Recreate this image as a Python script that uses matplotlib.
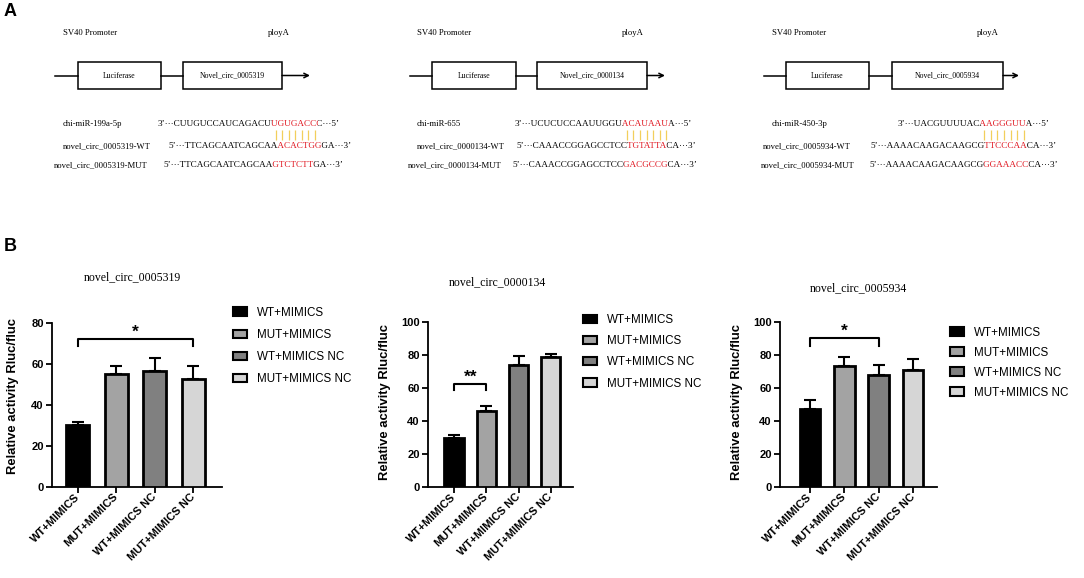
import matplotlib
matplotlib.use('Agg')
import matplotlib.pyplot as plt
from matplotlib.patches import Rectangle, Patch
from matplotlib.font_manager import FontProperties
from matplotlib.transforms import Bbox, TransformedBbox

W, H = 1084, 578
SERIF = 'Liberation Serif'
SANS = 'Liberation Sans'

# ---- panel A content
constructs = ['Novel_circ_0005319', 'Novel_circ_0000134', 'Novel_circ_0005934']
mirnas = ['chi-miR-199a-5p', 'chi-miR-655', 'chi-miR-450-3p']
wt_labels = ['novel_circ_0005319-WT', 'novel_circ_0000134-WT', 'novel_circ_0005934-WT']
mut_labels = ['novel_circ_0005319-MUT', 'novel_circ_0000134-MUT', 'novel_circ_0005934-MUT']
mir_seqs = [('3’···CUUGUCCAUCAGACU', 'UGUGACC', 'C···5’'),
            ('3’···UCUCUCCAAUUGGU', 'ACAUAAU', 'A···5’'),
            ('3’···UACGUUUUAC', 'AAGGGUU', 'A···5’')]
wt_seqs = [('5’···TTCAGCAATCAGCAA', 'ACACTGG', 'GA···3’'),
           ('5’···CAAACCGGAGCCTCC', 'TGTATTA', 'CA···3’'),
           ('5’···AAAACAAGACAAGCG', 'TTCCCAA', 'CA···3’')]
mut_seqs = [('5’···TTCAGCAATCAGCAA', 'GTCTCTT', 'GA···3’'),
            ('5’···CAAACCGGAGCCTCC', 'GACGCCG', 'CA···3’'),
            ('5’···AAAACAAGACAAGCG', 'GGAAACC', 'CA···3’')]

# ---- panel B data
groups = ['WT+MIMICS', 'MUT+MIMICS', 'WT+MIMICS NC', 'MUT+MIMICS NC']
titles = ['novel_circ_0005319', 'novel_circ_0000134', 'novel_circ_0005934']
means_0005319 = [30.1, 55.3, 56.6, 52.9]
errs_0005319 = [1.6, 3.7, 6.5, 6.0]
means_0000134 = [30.0, 46.2, 73.7, 78.5]
errs_0000134 = [1.7, 2.7, 5.7, 2.4]
means_0005934 = [47.4, 73.6, 68.0, 71.0]
errs_0005934 = [5.3, 5.1, 6.0, 6.5]
ymax = [80, 100, 100]
yticks_step = [20, 20, 20]
# (first bar, last bar, bracket height, drop, label)
brackets = [(0, 3, 72.4, 3.8, '*'), (0, 1, 62.7, 4.1, '**'), (0, 2, 90.3, 5.1, '*')]
bar_colors = ['#000000', '#a3a3a3', '#808080', '#d6d6d6']

# ---- layout in pixels
layA = [
    dict(sv40=63, ploya=268, line0=55, box1=(78, 161), box2=(183, 282), arrow=310,
         mir=(63, 158), wt=(63, 168), mut=(54, 163)),
    dict(sv40=417, ploya=622, line0=410, box1=(432, 516), box2=(537, 647), arrow=665,
         mir=(417, 515), wt=(417, 516), mut=(408, 512)),
    dict(sv40=772, ploya=977, line0=764, box1=(786, 869), box2=(892, 1003), arrow=1019,
         mir=(772, 898), wt=(763, 870), mut=(761, 869)),
]
layB = [
    dict(box=(52, 323, 222, 487), xlim=(-0.675, 3.75), title=(132, 277), ylab=(19, 396),
         leg=(233, 306.5), lsp=0.88),
    dict(box=(428, 322, 573, 487), xlim=(-0.81, 3.69), title=(497, 282), ylab=(391, 402),
         leg=(583, 314), lsp=0.79),
    dict(box=(780, 322, 937, 487), xlim=(-0.88, 3.70), title=(858, 288), ylab=(743, 402),
         leg=(950, 326.5), lsp=0.69),
]

fig = plt.figure(figsize=(W / 100, H / 100), dpi=100)
ax0 = fig.add_axes([0, 0, 1, 1])
ax0.set_xlim(0, W)
ax0.set_ylim(H, 0)
ax0.axis('off')
renderer = fig.canvas.get_renderer()

fs_lab = 6.2
fs_seq = 6.55
seq_font = FontProperties(family=SERIF, size=fs_seq)


def text_w(s):
    # width in pixels == ax0 data units
    return renderer.get_text_width_height_descent(s, seq_font, ismath=False)[0]


def seq_text(x, y, parts, colors):
    # whole string drawn per colour, each clipped to its own stretch
    full = ''.join(parts)
    edges = [x - 20]
    pre = ''
    for p in parts[:-1]:
        pre += p
        edges.append(x + text_w(pre) + 0.6)
    edges.append(x + 400)
    for c, a, b in zip(colors, edges[:-1], edges[1:]):
        t = ax0.text(x, y, full, color=c, fontproperties=seq_font, ha='left', va='center')
        t.set_clip_box(TransformedBbox(Bbox([[a, y - 12], [b, y + 12]]), ax0.transData))
        t.set_clip_on(True)
    return edges


seq_cols = ['black', '#e0141e', 'black']
for i, L in enumerate(layA):
    ax0.text(L['sv40'], 33, 'SV40 Promoter', fontsize=fs_lab, family=SERIF, va='center')
    ax0.text(L['ploya'], 33, 'ployA', fontsize=fs_lab, family=SERIF, va='center')
    y = 75.5
    ax0.plot([L['line0'], L['box1'][0]], [y, y], color='black', lw=1.1)
    ax0.plot([L['box1'][1], L['box2'][0]], [y, y], color='black', lw=1.1)
    for (a, b), txt in zip([L['box1'], L['box2']], ['Luciferase', constructs[i]]):
        ax0.add_patch(Rectangle((a, 62), b - a, 27, fill=False, ec='black', lw=1.1))
        ax0.text((a + b) / 2, y, txt, fontsize=5.6, family=SERIF, ha='center', va='center')
    ax0.annotate('', xy=(L['arrow'], y), xytext=(L['box2'][1], y),
                 arrowprops=dict(arrowstyle='->', lw=1.1, color='black',
                                 shrinkA=0, shrinkB=0, mutation_scale=8))
    ax0.text(L['mir'][0], 124, mirnas[i], fontsize=fs_lab, family=SERIF, va='center')
    ax0.text(L['wt'][0], 146, wt_labels[i], fontsize=fs_lab, family=SERIF, va='center')
    ax0.text(L['mut'][0], 165, mut_labels[i], fontsize=fs_lab, family=SERIF, va='center')
    e = seq_text(L['mir'][1], 124, mir_seqs[i], seq_cols)
    rx0, rx1 = e[1], e[2]
    seq_text(L['wt'][1], 146, wt_seqs[i], seq_cols)
    seq_text(L['mut'][1], 165, mut_seqs[i], seq_cols)
    # yellow pairing lines under the red seed
    n = len(mir_seqs[i][1])
    xs = [rx0 + (j + 0.5) * (rx1 - rx0) / n for j in range(n)]
    ax0.vlines(xs, 130, 140, color='#f2cf5b', lw=0.9)

fig.text(4 / W, 1 - 11 / H, 'A', fontsize=13, weight='bold', family=SANS, va='center')
fig.text(4 / W, 1 - 246 / H, 'B', fontsize=13, weight='bold', family=SANS, va='center')

# ---- bar charts
all_means = [means_0005319, means_0000134, means_0005934]
all_errs = [errs_0005319, errs_0000134, errs_0005934]
x = list(range(len(groups)))
for k, L in enumerate(layB):
    l, t, r, b = L['box']
    ax = fig.add_axes([l / W, 1 - b / H, (r - l) / W, (b - t) / H])
    ax.bar(x, all_means[k], width=0.6, color=bar_colors, edgecolor='black', lw=2.0, zorder=3)
    ax.errorbar(x, all_means[k], yerr=[[0] * 4, all_errs[k]], fmt='none', ecolor='black',
                elinewidth=1.5, capsize=4, capthick=1.5, zorder=2)
    ax.set_xlim(*L['xlim'])
    ax.set_ylim(0, ymax[k])
    ax.set_yticks(range(0, ymax[k] + 1, yticks_step[k]))
    ax.set_xticks(x)
    ax.set_xticklabels(groups, rotation=45, ha='right', va='center', rotation_mode='anchor')
    for s in ['top', 'right']:
        ax.spines[s].set_visible(False)
    for s in ['left', 'bottom']:
        ax.spines[s].set_linewidth(1.3)
    ax.tick_params(width=1.3, length=4, pad=2)
    for lab in ax.get_xticklabels() + ax.get_yticklabels():
        lab.set_fontweight('bold')
        lab.set_fontfamily(SANS)
        lab.set_fontsize(8)
    ax.set_ylabel('Relative activity Rluc/fluc', fontsize=9.4, weight='bold', family=SANS)
    ax.yaxis.set_label_coords(L['ylab'][0] / W, 1 - L['ylab'][1] / H, transform=fig.transFigure)
    i0, i1, hy, drop, lab = brackets[k]
    ax.plot([i0, i0, i1, i1], [hy - drop, hy, hy, hy - drop], color='black', lw=1.5,
            clip_on=False, zorder=4)
    ax.text((i0 + i1) / 2, hy - 0.5, lab, fontsize=12.5, weight='bold', family=SANS,
            ha='center', va='bottom', clip_on=False)
    fig.text(L['title'][0] / W, 1 - L['title'][1] / H, titles[k], fontsize=8.5,
             family=SERIF, ha='center', va='center')
    handles = [Patch(facecolor=c, edgecolor='black', lw=1.5) for c in bar_colors]
    ax.legend(handles, groups, loc='upper left', bbox_to_anchor=(L['leg'][0] / W, 1 - L['leg'][1] / H),
              bbox_transform=fig.transFigure, frameon=False, borderpad=0, borderaxespad=0,
              handlelength=1.2, handleheight=0.7, handletextpad=0.85, labelspacing=L['lsp'],
              prop=dict(family=SANS, size=8.4))

fig.savefig('out.png', dpi=100)
